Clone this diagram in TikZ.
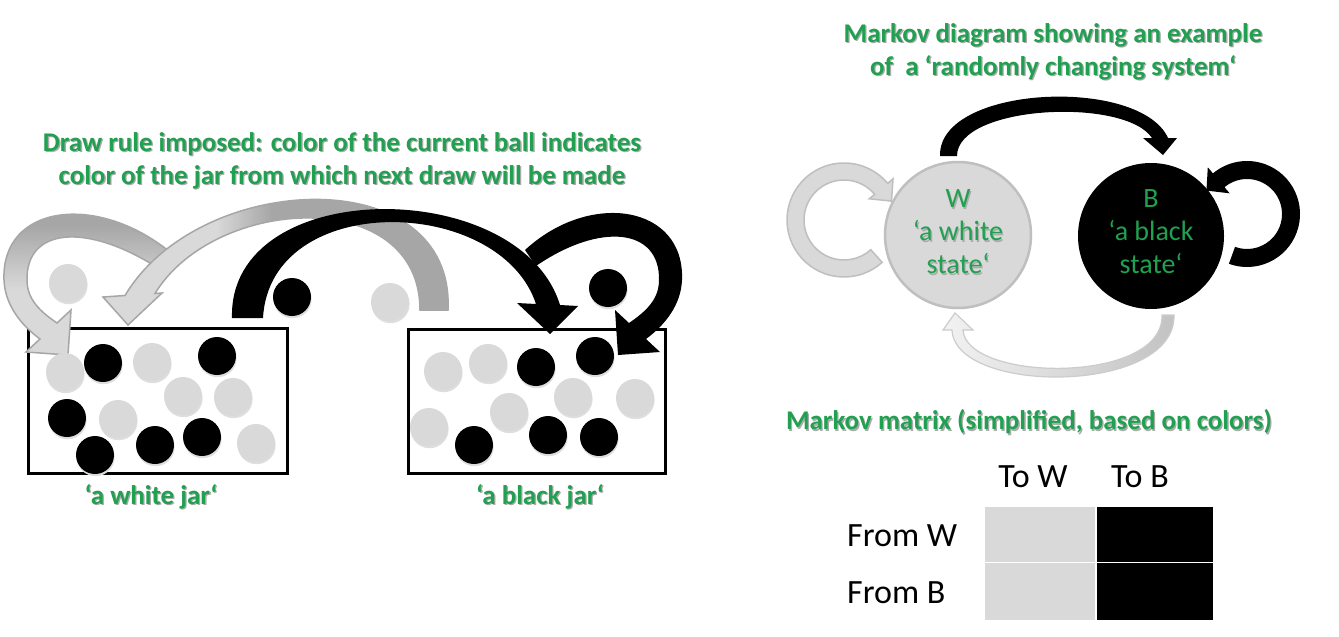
\documentclass[tikz,border=0pt]{standalone}
\usepackage{fontspec}
\setmainfont{Carlito}
\usetikzlibrary{calc}
\definecolor{grn}{RGB}{32,160,80}
\definecolor{lgray}{HTML}{D9D9D9}
\definecolor{dgray}{HTML}{A6A6A6}
\definecolor{cgray}{HTML}{BFBFBF}
\definecolor{pale}{HTML}{F2F2F2}
\definecolor{paleout}{HTML}{CCCCCC}
\definecolor{tailgray}{HTML}{C2C2C2}
\definecolor{shd}{HTML}{ABABAB}
\pgfdeclareverticalshading{aoneshade}{100bp}{color(0bp)=(lgray); color(45bp)=(lgray); color(65bp)=(dgray); color(100bp)=(dgray)}
\pgfdeclarehorizontalshading{atwoshade}{100bp}{color(0bp)=(lgray); color(41bp)=(lgray); color(49bp)=(dgray); color(100bp)=(dgray)}
\pgfdeclarehorizontalshading{botshade}{100bp}{color(0bp)=(pale); color(25bp)=(pale); color(75bp)=(tailgray); color(100bp)=(tailgray)}
\tikzset{
  gtext/.style={text=grn, font=\bfseries\fontsize{27}{33}\selectfont, align=center, inner sep=0},
  gshadow/.style={gtext, text=shd},
  stext/.style={text=grn, font=\fontsize{28}{33}\selectfont, align=center, inner sep=0},
  sshadow/.style={stext, text=shd},
  mtext/.style={text=black, font=\fontsize{34}{40}\selectfont, inner sep=0},
  jar/.style={draw=black, line width=3, inner sep=0, minimum width=259, minimum height=145},
  cell/.style={inner sep=0, minimum width=110, minimum height=55},
  ballshadow/.style={fill=black!13},
}
\begin{document}
\begin{tikzpicture}[x=1pt,y=-1pt]
\fill[white] (0,0) rectangle (1339,637);
\useasboundingbox (0,0) rectangle (1339,637);

% ---------------- left panel ----------------
\node[gshadow] (titleLs) at (343.3,162.3) {Draw rule imposed: color of the current ball indicates\\color of the jar from which next draw will be made};
\node[gtext] (titleL) at (342,161) {Draw rule imposed: color of the current ball indicates\\color of the jar from which next draw will be made};

\node[jar] (wjar) at (157.5,400.5) {};
\node[jar, minimum width=257, minimum height=144] (bjar) at (536.5,401) {};

% A1: white-jar self loop (gray gradient)
\shade[shading=aoneshade, draw=dgray, line width=1.5]
  (170,252) .. controls (96,192) and (1,205) .. (4,280)
  .. controls (5,305) and (21,325) .. (40,339) -- (26,352) -- (68,355) -- (71,310) -- (57,323)
  .. controls (41,312) and (27,300) .. (27,280)
  .. controls (26,228) and (86,222) .. (158,268) -- cycle;
% A2: black jar -> white jar (gray gradient)
\shade[shading=atwoshade, draw=dgray, line width=1.5]
  (448,310) .. controls (455,160) and (200,170) .. (125,295.5)
  -- (103,297) -- (128,325) -- (162,293) -- (155,293.5)
  .. controls (215,195) and (420,185) .. (420,310) -- cycle;
% B2: black-jar self loop
\fill[black]
  (525,250) .. controls (590,190) and (685,205) .. (682,280)
  .. controls (681,305) and (665,325) .. (646,339) -- (660,352) -- (618,355) -- (615,310) -- (629,323)
  .. controls (645,312) and (659,300) .. (659,280)
  .. controls (660,228) and (600,222) .. (536,266) -- cycle;
% B1: white jar -> black jar
\fill[black]
  (232,318) .. controls (228,175) and (520,175) .. (560,305)
  -- (578,306) -- (550,334) -- (517,303) -- (536,304)
  .. controls (500,195) and (270,190) .. (263,318) -- cycle;

% balls
\foreach \x/\y/\c in {65/372/lgray, 103/363/black, 152/362/lgray, 217/356/black,
  183/396/lgray, 233/397/lgray, 67/418/black, 118/419/lgray, 95/455/black,
  155/445/black, 202/437/black, 256/443/lgray,
  68/283/lgray, 292/297/black, 390/302/lgray, 608/288/black,
  443/371/lgray, 488/363/lgray, 536/367/black, 595/356/black, 573/397/lgray,
  635/398/lgray, 509/412/lgray, 429/427/lgray, 474/445/black, 548/435/black, 599/437/black}
{
  \fill[ballshadow] (\x+0.6,\y+2.2) circle (19);
  \fill[\c] (\x,\y) circle (19);
}

\node[gshadow] (wlabs) at (152.3,498.3) {‘a white jar‘};
\node[gtext] (wlab) at (151,497) {‘a white jar‘};
\node[gshadow] (blabs) at (541.3,498.3) {‘a black jar‘};
\node[gtext] (blab) at (540,497) {‘a black jar‘};

% ---------------- Markov diagram ----------------
\node[gshadow] (titleRs) at (1054.3,52.8) {Markov diagram showing an example\\of\ \ a ‘randomly changing system‘};
\node[gtext] (titleR) at (1053,51.5) {Markov diagram showing an example\\of\ \ a ‘randomly changing system‘};

\coordinate (LL) at (844,220);
\coordinate (RL) at (1247,214);

% top arrow W -> B
\fill[black]
  (940,156) .. controls (938,85) and (1140,76) .. (1168,138)
  -- (1177,138) -- (1163,155) -- (1143,138) -- (1152,138)
  .. controls (1125,97) and (957,105) .. (957,156) -- cycle;
% left self loop
\path[draw=cgray, fill=lgray, line width=1.5]
  ($(LL)+(48:57)$) arc[start angle=48, end angle=320, radius=57]
  -- ($(LL)+(320:64)$) -- ($(LL)+(320:48.5)+(50:16)$) -- ($(LL)+(320:33)$)
  -- ($(LL)+(320:40)$) arc[start angle=320, end angle=48, radius=40] -- cycle;
% right self loop
\fill[black]
  ($(RL)+(110:53)$) arc[start angle=110, end angle=-130, radius=53]
  -- ($(RL)+(-130:61)$) -- ($(RL)+(-130:44)+(140:16)$) -- ($(RL)+(-130:27)$)
  -- ($(RL)+(-130:35)$) arc[start angle=-130, end angle=110, radius=35] -- cycle;
% bottom arrow B -> W
\shade[shading=botshade, draw=paleout, line width=1.2]
  (1174,315) .. controls (1176,395) and (955,395) .. (952,330)
  -- (943,330) -- (955,313) -- (973,330) -- (963,330)
  .. controls (966,382) and (1164,385) .. (1162,315) -- cycle;

\node[circle, minimum size=146, inner sep=0, fill=lgray, draw=cgray, line width=2.5] (W) at (958,235) {};
\node[circle, minimum size=146, inner sep=0, fill=black] (B) at (1151,236) {};
\node[sshadow] (Wts) at (959.3,233.3) {W\\‘a white\\state‘};
\node[stext] (Wt) at (958,232) {W\\‘a white\\state‘};
\node[stext] (Bt) at (1151,232) {B\\‘a black\\state‘};

% ---------------- Markov matrix ----------------
\node[gshadow] (mlabs) at (1030.3,423.3) {Markov matrix (simplified, based on colors)};
\node[gtext] (mlab) at (1029,422) {Markov matrix (simplified, based on colors)};

\node[mtext, anchor=base] (toW) at (1033,487) {To W};
\node[mtext, anchor=base] (toB) at (1140,487) {To B};
\node[mtext, anchor=base west] (fromW) at (847,546) {From W};
\node[mtext, anchor=base west] (fromB) at (847,603) {From B};

\node[cell, fill=lgray] (m11) at (1040,534.5) {};
\node[cell, fill=black, minimum width=116] (m12) at (1155,534.5) {};
\node[cell, fill=lgray, minimum height=57] (m21) at (1040,591.5) {};
\node[cell, fill=black, minimum width=116, minimum height=57] (m22) at (1155,591.5) {};
\end{tikzpicture}
\end{document}
